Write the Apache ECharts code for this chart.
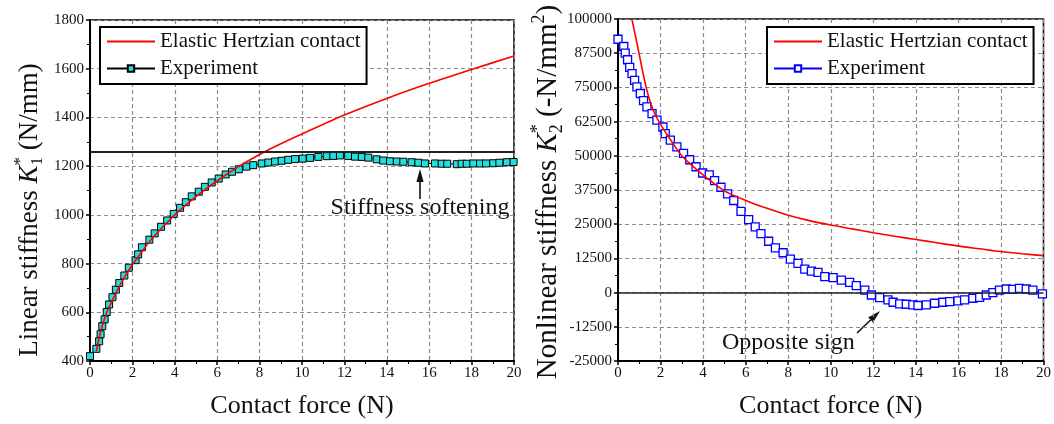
<!DOCTYPE html>
<html>
<head>
<meta charset="utf-8">
<script src="https://cdn.jsdelivr.net/npm/echarts@6/dist/echarts.min.js"></script>
<style>
  html, body { margin: 0; padding: 0; background: #fff; }
  #wrap { position: relative; width: 1054px; height: 424px; }
  #left { position: absolute; left: 0; top: 0; width: 530px; height: 424px; }
  #right { position: absolute; left: 530px; top: 0; width: 524px; height: 424px; }
</style>
</head>
<body>
<div id="wrap"><div id="left"></div><div id="right"></div></div>
<script>
// ---- Linear stiffness K1* vs contact force ----
const expForce1 = [0, 0.3, 0.43, 0.5, 0.58, 0.69, 0.79, 0.9, 1.06, 1.22, 1.38, 1.62, 1.83, 2.15, 2.27, 2.45,
  2.8, 3.05, 3.35, 3.64, 3.95, 4.25, 4.52, 4.8, 5.13, 5.42, 5.74, 6.07, 6.4, 6.7, 7.02, 7.38, 7.7, 8.1,
  8.41, 8.73, 9.04, 9.35, 9.67, 10.03, 10.38, 10.77, 11.17, 11.48, 11.79, 12.18, 12.5, 12.82, 13.13,
  13.52, 13.83, 14.15, 14.47, 14.78, 15.17, 15.49, 15.8, 16.27, 16.59, 16.85, 17.3, 17.53, 17.77, 18.08,
  18.4, 18.68, 19.02, 19.31, 19.66, 19.98];
const expK1 = [420, 450, 481, 510, 543, 571, 601, 632, 662, 693, 720, 751, 783, 814, 838, 867,
  898, 924, 951, 977, 1004, 1029, 1052, 1076, 1095, 1115, 1133, 1149, 1166, 1177, 1187, 1198, 1204, 1211,
  1215, 1219, 1222, 1226, 1229, 1231, 1234, 1238, 1241, 1242, 1244, 1242, 1239, 1238, 1235,
  1228, 1223, 1220, 1219, 1218, 1216, 1214, 1211, 1211, 1210, 1210, 1208, 1210, 1210, 1211,
  1211, 1211, 1212, 1214, 1216, 1217];
const hertzForce1 = [0.3, 0.5, 0.75, 1, 1.5, 2, 2.5, 3, 4, 5, 6, 7, 8, 9, 10, 12, 14, 16, 18, 20];
const hertzK1 = [440, 520, 590, 640, 725, 795, 855, 910, 1000, 1075, 1140, 1198, 1248, 1292, 1332, 1410, 1478, 1540, 1597, 1652];
const plateauK1 = 1260;

// ---- Nonlinear stiffness K2* vs contact force ----
const expForce2 = [0, 0.27, 0.34, 0.45, 0.55, 0.66, 0.78, 0.89, 1.05, 1.2, 1.36, 1.6, 1.83, 2.11, 2.22, 2.46,
  2.77, 3.08, 3.37, 3.67, 3.98, 4.29, 4.54, 4.84, 5.15, 5.44, 5.78, 6.14, 6.45, 6.72, 7.08, 7.4, 7.76,
  8.1, 8.46, 8.78, 9.09, 9.4, 9.72, 10.11, 10.5, 10.89, 11.2, 11.6, 11.91, 12.3, 12.69, 12.93, 13.24,
  13.55, 13.86, 14.1, 14.49, 14.88, 15.27, 15.59, 15.98, 16.29, 16.68, 17.0, 17.31, 17.62, 17.93, 18.25,
  18.56, 18.87, 19.19, 19.5, 19.95];
const expK2 = [92600, 89950, 87550, 85100, 82300, 80000, 77600, 75200, 72770, 70200, 67900, 65400, 63070, 60530, 58130, 55700,
  53270, 50870, 48550, 46000, 43720, 43000, 40900, 38500, 36100, 33660, 29670, 26650, 24000, 21570, 18770, 16380, 14560,
  12240, 10680, 8570, 7840, 7370, 5810, 5450, 4580, 3740, 2540, 940, -870, -1820, -2690, -3520, -4140,
  -4250, -4500, -4720, -4500, -3890, -3520, -3270, -3050, -2690, -2070, -1710, -870, 0, 940, 1310,
  1200, 1560, 1310, 940, -500];
const hertzForce2 = [0.65, 0.83, 1, 1.25, 1.5, 1.75, 2, 2.5, 3, 3.5, 4, 5, 6, 7, 8, 9, 10, 11, 12, 13, 14, 15, 16, 17, 18, 19, 20];
const hertzK2 = [100000, 93500, 87000, 77500, 70000, 65000, 61500, 55500, 50000, 46300, 43000, 37200, 33700, 30800, 28300,
  26300, 24700, 23300, 21900, 20600, 19400, 18200, 17000, 16000, 15000, 14200, 13500];

const legendNames = ['Elastic Hertzian contact', 'Experiment'];
const xTitle = 'Contact force (N)';

const FONT = '"Liberation Serif", "Times New Roman", serif';
const zip = (xs, ys) => xs.map((x, i) => [x, ys[i]]);

const measureCtx = document.createElement('canvas').getContext('2d');
function textWidth(t, font) { measureCtx.font = font; return measureCtx.measureText(t).width; }

// Rotated axis title built from pieces (italic symbol, stacked super/subscripts)
function verticalTitle(cx, cy, pieces) {
  const items = [];
  let x = 0, groupStart = 0, groupAdv = 0;
  pieces.forEach(p => {
    const font = (p.italic ? 'italic ' : '') + p.size + 'px ' + FONT;
    const w = textWidth(p.t, font);
    let px;
    if (p.stack) { px = groupStart; groupAdv = Math.max(groupAdv, w); x = groupStart + groupAdv; }
    else { px = x; groupStart = x; groupAdv = w; x += w; }
    items.push({ type: 'text', x: px, y: p.dy || 0,
      style: { text: p.t, font: font, fill: '#111', textAlign: 'left', textVerticalAlign: 'middle' } });
  });
  const total = x;
  items.forEach(it => { it.x -= total / 2; });
  return { type: 'group', x: cx, y: cy, rotation: Math.PI / 2, children: items, silent: true };
}

function arrow(x1, y1, x2, y2) {
  const dx = x2 - x1, dy = y2 - y1, L = Math.hypot(dx, dy);
  const ux = dx / L, uy = dy / L, hl = 13, hw = 3.6;
  const bx = x2 - ux * hl, by = y2 - uy * hl;
  return [
    { type: 'line', shape: { x1: x1, y1: y1, x2: bx, y2: by }, style: { stroke: '#111', lineWidth: 1.6 }, silent: true },
    { type: 'polygon', shape: { points: [[x2, y2], [bx - uy * hw, by + ux * hw], [bx + uy * hw, by - ux * hw]] },
      style: { fill: '#111' }, silent: true }
  ];
}

function baseAxisX() {
  return {
    type: 'value', min: 0, max: 20, interval: 2,
    axisLine: { show: true, onZero: false, lineStyle: { color: '#000', width: 2 } },
    axisTick: { show: true, length: 4, lineStyle: { color: '#000', width: 1.5 } },
    minorTick: { show: true, splitNumber: 2, length: 3, lineStyle: { color: '#000', width: 1 } },
    axisLabel: { color: '#111', fontSize: 15, fontFamily: FONT, margin: 5 },
    splitLine: { show: true, lineStyle: { color: '#8c8c8c', type: [4, 3], width: 1.2 } },
    name: xTitle, nameLocation: 'middle', nameGap: 32,
    nameTextStyle: { fontSize: 26, color: '#111', fontFamily: FONT }
  };
}
function baseAxisY(min, max, interval) {
  return {
    type: 'value', min: min, max: max, interval: interval,
    axisLine: { show: true, lineStyle: { color: '#000', width: 2 } },
    axisTick: { show: true, length: 4, lineStyle: { color: '#000', width: 1.5 } },
    minorTick: { show: true, splitNumber: 2, length: 3, lineStyle: { color: '#000', width: 1 } },
    axisLabel: { color: '#111', fontSize: 15, fontFamily: FONT, margin: 6, formatter: v => String(v) },
    splitLine: { show: true, lineStyle: { color: '#8c8c8c', type: [4, 3], width: 1.2 } }
  };
}
function legendCfg(left) {
  return {
    orient: 'vertical', left: left, top: 27,
    data: [{ name: legendNames[0], itemStyle: { opacity: 0 } }, { name: legendNames[1] }],
    itemWidth: 48, itemHeight: 8, itemGap: 6,
    padding: [4, 6, 5, 6],
    borderColor: '#000', borderWidth: 2, backgroundColor: '#fff',
    textStyle: { fontSize: 21, color: '#111', fontFamily: FONT },
    selectedMode: false
  };
}

// Left chart
const chartL = echarts.init(document.getElementById('left'), null, { renderer: 'canvas' });
chartL.setOption({
  animation: false,
  grid: { left: 90, right: 16, top: 20, bottom: 61, show: true, borderColor: '#000', borderWidth: 1.5 },
  legend: legendCfg(100),
  xAxis: baseAxisX(),
  yAxis: baseAxisY(400, 1800, 200),
  series: [
    { name: legendNames[1], type: 'line', data: zip(expForce1, expK1), symbol: 'rect', symbolSize: 7,
      showAllSymbol: true, z: 2,
      itemStyle: { color: '#22dede', borderColor: '#000', borderWidth: 1 },
      lineStyle: { color: '#000', width: 1 },
      markLine: { silent: true, symbol: 'none', label: { show: false },
        lineStyle: { color: '#222', width: 2, type: 'solid' }, data: [{ yAxis: plateauK1 }] } },
    { name: legendNames[0], type: 'line', data: zip(hertzForce1, hertzK1), symbol: 'none', smooth: 0.3, z: 3,
      lineStyle: { color: '#ff0000', width: 1.6 }, itemStyle: { color: '#ff0000' } }
  ],
  graphic: [
    verticalTitle(30, 210, [
      { t: 'Linear stiffness ', size: 27 },
      { t: 'K', size: 27, italic: true },
      { t: '*', size: 17, dy: -9 },
      { t: '1', size: 17, dy: 8, stack: true },
      { t: ' (N/mm)', size: 27 }
    ]),
    { type: 'text', x: 420, y: 208, silent: true,
      style: { text: 'Stiffness softening', font: '24px ' + FONT, fill: '#111', textAlign: 'center', textVerticalAlign: 'middle' } },
    ...arrow(420, 199, 420, 169)
  ]
});

// Right chart
const chartR = echarts.init(document.getElementById('right'), null, { renderer: 'canvas' });
chartR.setOption({
  animation: false,
  grid: { left: 88, right: 10, top: 19, bottom: 61, show: true, borderColor: '#000', borderWidth: 1.5 },
  legend: legendCfg(237),
  xAxis: baseAxisX(),
  yAxis: baseAxisY(-25000, 100000, 12500),
  series: [
    { name: legendNames[1], type: 'line', data: zip(expForce2, expK2), symbol: 'rect', symbolSize: 8,
      showAllSymbol: true, z: 2,
      itemStyle: { color: '#fff', borderColor: '#0000ff', borderWidth: 1.3 },
      lineStyle: { color: '#0000ff', width: 1.5 },
      markLine: { silent: true, symbol: 'none', label: { show: false },
        lineStyle: { color: '#222', width: 1.6, type: 'solid' }, data: [{ yAxis: 0 }] } },
    { name: legendNames[0], type: 'line', data: zip(hertzForce2, hertzK2), symbol: 'none', smooth: 0.3, z: 3,
      lineStyle: { color: '#ff0000', width: 1.6 }, itemStyle: { color: '#ff0000' } }
  ],
  graphic: [
    verticalTitle(18, 192, [
      { t: 'Nonlinear stiffness ', size: 29 },
      { t: 'K', size: 29, italic: true },
      { t: '*', size: 18, dy: -10 },
      { t: '2', size: 18, dy: 9, stack: true },
      { t: ' (-N/mm', size: 29 },
      { t: '2', size: 18, dy: -9 },
      { t: ')', size: 29 }
    ]),
    { type: 'text', x: 192, y: 343, silent: true,
      style: { text: 'Opposite sign', font: '24px ' + FONT, fill: '#111', textAlign: 'left', textVerticalAlign: 'middle' } },
    ...arrow(327, 333, 350, 311)
  ]
});
</script>
</body>
</html>
